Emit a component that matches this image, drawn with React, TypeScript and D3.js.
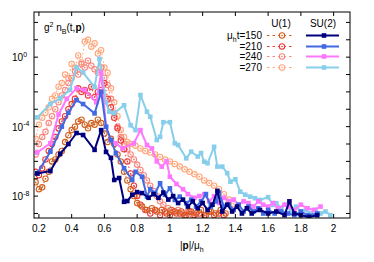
import React from "react";
import * as d3 from "d3";

const W = 374;
const H = 262;
const PL = 34, PR = 350, PT = 12, PB = 218;

const xTicks = [0.2, 0.4, 0.6, 0.8, 1, 1.2, 1.4, 1.6, 1.8, 2];
const xTickLabels = ["0.2", "0.4", "0.6", "0.8", "1", "1.2", "1.4", "1.6", "1.8", "2"];
const yTicks = [1e2, 1e1, 1e0, 1e-1, 1e-2, 1e-3, 1e-4, 1e-5, 1e-6, 1e-7, 1e-8, 1e-9];
const yLabelTicks = [1e0, 1e-4, 1e-8];
const yLabelExps = ["0", "-4", "-8"];

// U(1) series
const u150_p = [0.18,0.20,0.22,0.24,0.26,0.28,0.30,0.32,0.34,0.36,0.38,0.40,0.42,0.44,0.46,0.48,0.50,0.52,0.54,0.56,0.58,0.60,0.62,0.64,0.66,0.68,0.70,0.72,0.74,0.76,0.78,0.80,0.83,0.86,0.89,0.92,0.95,0.98,1.01,1.04,1.07,1.10,1.13,1.16,1.19,1.22,1.25,1.28,1.31,1.34];
const u150_n = [6.3e-8,2.5e-8,3.2e-8,1e-7,2.5e-7,1e-6,1.3e-6,2.5e-6,4e-6,1.3e-5,3.2e-5,6.3e-5,1e-4,2e-4,2.5e-4,1.3e-4,8e-5,1.6e-4,1.3e-4,2.5e-4,1.6e-4,4e-5,1.3e-5,2e-5,1e-5,2.5e-6,1e-6,2.5e-7,8e-8,2.5e-8,1e-8,4e-9,2.5e-9,1.6e-9,2e-9,1.3e-9,1.6e-9,1e-9,1.6e-9,1e-9,1.3e-9,8e-10,1.3e-9,1e-9,1.6e-9,8e-10,1.3e-9,1e-9,1.6e-9,1e-9];

const u210_p = [0.18,0.20,0.22,0.24,0.26,0.28,0.30,0.32,0.34,0.36,0.38,0.40,0.42,0.44,0.46,0.48,0.50,0.52,0.54,0.56,0.58,0.60,0.62,0.64,0.66,0.68,0.70,0.72,0.74,0.76,0.78,0.80,0.82,0.85,0.88,0.91,0.94,0.97,1.00,1.03,1.06,1.09,1.12,1.15,1.18,1.21,1.24,1.27,1.30,1.33];
const u210_n = [2.5e-7,1.6e-7,4e-7,1.3e-6,4e-6,1e-5,2.5e-5,8e-5,2e-4,4e-4,1e-3,2e-3,4e-3,1.6e-2,1e-2,1.3e-2,6.3e-3,2e-2,5e-3,1e-2,1.3e-2,3.2e-2,4e-3,1.3e-3,3.2e-4,8e-5,1.6e-5,5e-6,1e-6,2e-7,4e-8,1e-8,3.2e-9,1.6e-9,1e-9,1.6e-9,8e-10,1.3e-9,8e-10,1.3e-9,1e-9,8e-10,1.3e-9,8e-10,1e-9,8e-10,1.3e-9,8e-10,1e-9,8e-10];

const u240_p = [0.18,0.20,0.22,0.24,0.26,0.28,0.30,0.32,0.34,0.36,0.38,0.40,0.42,0.44,0.46,0.48,0.50,0.52,0.54,0.56,0.58,0.60,0.62,0.64,0.66,0.68,0.70,0.72,0.74,0.76,0.78,0.80,0.82,0.84,0.86,0.88,0.90,0.92,0.94,0.96,0.99,1.02,1.05,1.08,1.11,1.14];
const u240_n = [2.5e-6,1e-5,2.5e-5,5e-5,1.6e-4,4e-4,1e-3,2.5e-3,6.3e-3,1.3e-2,3.2e-2,6.3e-2,0.16,0.1,0.4,0.25,0.63,0.32,0.2,0.13,0.25,6.3e-2,2.5e-2,4e-3,6.3e-4,1e-4,2.5e-5,1e-5,5e-6,2.5e-6,1.3e-6,6.3e-7,3.2e-7,1.6e-7,8e-8,4e-8,2e-8,1e-8,5e-9,3.2e-9,2e-9,1.3e-9,1.6e-9,1e-9,1.3e-9,8e-10];

const u270_p = [0.18,0.20,0.22,0.24,0.26,0.28,0.30,0.32,0.34,0.36,0.38,0.40,0.42,0.44,0.46,0.48,0.50,0.52,0.54,0.56,0.58,0.60,0.62,0.64,0.66,0.68,0.70,0.72,0.74,0.76,0.79,0.82,0.85,0.88,0.91,0.94,0.97,1.00,1.03,1.06,1.09,1.12,1.15,1.18,1.21,1.24,1.27,1.30,1.33,1.36,1.39];
const u270_n = [2e-5,1.3e-4,3.2e-4,6.3e-4,1.3e-3,4e-3,6.3e-3,2e-2,3.2e-2,0.1,6.3e-2,0.4,0.25,1.26,0.5,7.9,10,4,6.3,1.6,2.5,0.25,0.126,1.6e-2,2.5e-3,4e-4,6.3e-5,2.5e-5,1.3e-5,1e-5,8e-6,5.6e-6,4e-6,3.2e-6,2.5e-6,1.8e-6,1.3e-6,1e-6,7.1e-7,5e-7,3.5e-7,2.5e-7,1.8e-7,1.3e-7,8e-8,5.6e-8,4e-8,2.5e-8,1.3e-8,6.3e-9,3.5e-9];

// SU(2) series
const s150_p = [0.19,0.27,0.33,0.38,0.43,0.47,0.54,0.58,0.61,0.64,0.66,0.69,0.72,0.74,0.77,0.80,0.83,0.87,0.90,0.93,0.96,0.99,1.02,1.05,1.08,1.11,1.14,1.17,1.20,1.23,1.26,1.29,1.32,1.35,1.38,1.41,1.44,1.47,1.50,1.55,1.60,1.65,1.70,1.73,1.76,1.80,1.85,1.90];
const s150_n = [2e-7,2.8e-7,2.7e-6,1e-5,4.3e-5,3.3e-5,4.6e-6,6.3e-5,3.5e-6,1.6e-6,8.5e-8,1.1e-7,4.7e-9,5.2e-9,1.2e-8,1.7e-8,1.5e-8,8e-9,1.3e-8,8e-9,1.6e-8,6.3e-9,1e-8,4e-9,6.3e-9,2.5e-9,5e-9,2e-9,4e-9,1.6e-9,3.2e-9,2e-8,1.3e-9,3.2e-9,1.3e-9,2.5e-9,1e-9,2e-9,1e-9,1.6e-9,1e-9,1.3e-9,8e-10,5e-9,1e-9,8e-10,6.3e-10,8e-10];

const s210_p = [0.19,0.27,0.34,0.38,0.43,0.47,0.54,0.58,0.61,0.64,0.67,0.72,0.77,0.79,0.83,0.86,0.88,0.91,0.94,0.97,1.00,1.03,1.06,1.10,1.13,1.16,1.19,1.22,1.25,1.28,1.30,1.33,1.36,1.39,1.42,1.45,1.48,1.51,1.54,1.57,1.60,1.64,1.68,1.72,1.76,1.80,1.84,1.90];
const s210_n = [2.1e-7,3.6e-6,1e-4,6.3e-4,3.4e-3,2e-3,5.8e-4,1e-2,9.8e-5,1.7e-5,3e-6,4e-7,8.5e-8,2.5e-7,1.3e-7,9.3e-9,2.5e-8,1.5e-8,5.5e-8,1.2e-8,2.8e-8,6e-9,9.3e-9,3.9e-9,6.3e-9,2.5e-9,5e-9,1.3e-8,2.5e-9,5e-9,1.6e-8,2.5e-9,3.2e-9,1.6e-9,3.2e-9,1.3e-9,2.5e-9,1.3e-9,2e-9,1e-9,1.6e-9,1e-9,1.3e-9,1e-9,8e-10,1.3e-9,8e-10,1e-9];

const s240_p = [0.19,0.27,0.32,0.37,0.43,0.48,0.55,0.58,0.61,0.64,0.67,0.71,0.78,0.82,0.86,0.89,0.92,0.95,0.98,1.00,1.04,1.08,1.11,1.15,1.18,1.21,1.24,1.27,1.30,1.33,1.36,1.39,1.42,1.45,1.48,1.51,1.54,1.57,1.60,1.63,1.66,1.70,1.73,1.76,1.80,1.84,1.88,1.92];
const s240_n = [3.3e-6,1.1e-5,5e-4,4e-3,1.6e-2,1.3e-2,2.5e-3,0.13,9.8e-5,1.7e-5,1.1e-5,5.6e-6,1.1e-5,6.3e-5,8.7e-6,5.6e-6,1e-6,5e-7,1e-6,1.3e-7,5e-8,2.5e-8,1.3e-8,8e-9,1e-8,1.3e-8,5e-9,1e-8,4e-9,8e-9,5e-9,6.3e-9,3.2e-9,5e-9,4e-9,2.5e-9,5e-9,3.2e-9,2.5e-9,4e-9,2e-9,3.2e-9,2.5e-9,1.6e-9,3.2e-9,2e-9,1.6e-9,2.5e-9];

const s270_p = [0.19,0.27,0.33,0.39,0.43,0.47,0.54,0.57,0.61,0.63,0.66,0.72,0.76,0.79,0.82,0.86,0.88,0.92,0.94,0.96,1.00,1.03,1.05,1.10,1.13,1.17,1.19,1.21,1.23,1.27,1.29,1.32,1.35,1.37,1.40,1.43,1.46,1.49,1.52,1.55,1.60,1.63,1.65,1.68,1.71,1.74,1.77,1.80,1.83,1.86,1.89,1.92,1.95,1.98];
const s270_n = [3.4e-4,2e-3,4.3e-3,1.3e-2,0.26,0.13,1.9e-2,0.8,2.5e-3,7.2e-4,6e-4,1.7e-3,1.2e-4,6.3e-5,6.6e-3,7.2e-4,3.7e-4,1.7e-5,2.6e-5,1.8e-4,1.8e-4,1.1e-5,8.7e-6,1.5e-6,3.6e-6,1.9e-6,3e-6,9.5e-7,7.8e-7,6.9e-6,5e-7,5e-7,2.1e-7,6.8e-8,9.3e-8,1.8e-8,1.2e-8,9.3e-9,7.6e-9,6e-9,8.7e-9,3.1e-9,3.9e-9,2e-9,3.2e-9,1.3e-9,2.5e-9,1.3e-9,1.6e-9,1e-9,1.6e-9,1e-9,1.3e-9,8e-10];

const timeLabels = ["150", "210", "240", "270"];
const u1Colors = ["#d0601e", "#ee3b3b", "#f8877f", "#ffa77c"];
const su2Colors = ["#00007f", "#4169e1", "#ff77ff", "#87ceeb"];

const u1Series = [
  { p: u150_p, n: u150_n },
  { p: u210_p, n: u210_n },
  { p: u240_p, n: u240_n },
  { p: u270_p, n: u270_n },
];
const su2Series = [
  { p: s150_p, n: s150_n },
  { p: s210_p, n: s210_n },
  { p: s240_p, n: s240_n },
  { p: s270_p, n: s270_n },
];

const FONT = "'Liberation Sans', Arial, Helvetica, sans-serif";

export default function App() {
  const x = d3.scaleLinear().domain([0.17, 2.1]).range([PL, PR]);
  const y = d3.scaleLog().domain([Math.pow(10, -9.26), Math.pow(10, 2.6)]).range([PB, PT]);

  const line = d3
    .line<[number, number]>()
    .x((d) => x(d[0]))
    .y((d) => y(d[1]));

  const toPts = (s: { p: number[]; n: number[] }) =>
    s.p.map((v, i) => [v, s.n[i]] as [number, number]);

  const sq = 4.6;
  const legendRows = [39, 50, 60, 71];

  return (
    <svg width={W} height={H} style={{ display: "block", position: "absolute", left: 0, top: 0 }} fontFamily={FONT}>
      <rect x={0} y={0} width={W} height={H} fill="#fff" />
      <defs>
        <clipPath id="plotclip">
          <rect x={PL} y={PT} width={PR - PL} height={PB - PT} />
        </clipPath>
      </defs>

      <g clipPath="url(#plotclip)">
        {/* U(1) series, drawn from latest time to earliest */}
        {[3, 2, 1, 0].map((k) => {
          const pts = toPts(u1Series[k]);
          return (
            <g key={"u" + k}>
              <path d={line(pts) || ""} fill="none" stroke={u1Colors[k]} strokeWidth={1.1} strokeDasharray="1.5,2.5" />
              {pts.map((d, i) => (
                <g key={i}>
                  <circle cx={x(d[0])} cy={y(d[1])} r={2.7} fill="none" stroke={u1Colors[k]} strokeWidth={1.1} />
                  <circle cx={x(d[0])} cy={y(d[1])} r={0.8} fill={u1Colors[k]} />
                </g>
              ))}
            </g>
          );
        })}
        {/* SU(2) series */}
        {[3, 2, 1, 0].map((k) => {
          const pts = toPts(su2Series[k]);
          return (
            <g key={"s" + k}>
              <path d={line(pts) || ""} fill="none" stroke={su2Colors[k]} strokeWidth={2} strokeLinejoin="round" />
              {pts.map((d, i) => (
                <rect key={i} x={x(d[0]) - sq / 2} y={y(d[1]) - sq / 2} width={sq} height={sq} fill={su2Colors[k]} />
              ))}
            </g>
          );
        })}
      </g>

      {/* frame */}
      <rect x={PL} y={PT} width={PR - PL} height={PB - PT} fill="none" stroke="#000" strokeWidth={1} />

      {/* x ticks */}
      {xTicks.map((t, i) => (
        <g key={"xt" + i}>
          <line x1={x(t)} x2={x(t)} y1={PB} y2={PB - 4} stroke="#000" strokeWidth={1} />
          <line x1={x(t)} x2={x(t)} y1={PT} y2={PT + 4} stroke="#000" strokeWidth={1} />
          <text x={x(t)} y={232} fontSize={10} textAnchor="middle" fill="#000">
            {xTickLabels[i]}
          </text>
        </g>
      ))}

      {/* y ticks */}
      {yTicks.map((t, i) => (
        <g key={"yt" + i}>
          <line x1={PL} x2={PL + 4} y1={y(t)} y2={y(t)} stroke="#000" strokeWidth={1} />
          <line x1={PR} x2={PR - 4} y1={y(t)} y2={y(t)} stroke="#000" strokeWidth={1} />
        </g>
      ))}
      {yLabelTicks.map((t, i) => (
        <text key={"yl" + i} x={12} y={y(t) + 4} fontSize={10} fill="#000">
          10
          <tspan dy={-4.5} fontSize={7}>
            {yLabelExps[i]}
          </tspan>
        </text>
      ))}

      {/* axis label */}
      <text x={180} y={249} fontSize={10} fill="#000">
        |<tspan fontWeight="bold">p</tspan>|/μ
        <tspan dy={2.5} fontSize={7}>h</tspan>
      </text>

      {/* title */}
      <text x={44} y={31} fontSize={10} fill="#000">
        g
        <tspan dy={-4.5} fontSize={7}>2</tspan>
        <tspan dy={4.5}> n</tspan>
        <tspan dy={2.5} fontSize={7}>B</tspan>
        <tspan dy={-2.5}>(t,</tspan>
        <tspan fontWeight="bold">p</tspan>
        <tspan>)</tspan>
      </text>

      {/* legend */}
      <text x={281} y={27} fontSize={10} textAnchor="middle" fill="#000">U(1)</text>
      <text x={323} y={27} fontSize={10} textAnchor="middle" fill="#000">SU(2)</text>
      {timeLabels.map((tl, k) => {
        const ly = legendRows[k];
        return (
          <g key={"lg" + k}>
            {k === 0 ? (
              <text x={262} y={ly} fontSize={10} textAnchor="end" fill="#000">
                μ<tspan dy={2.5} fontSize={7}>h</tspan>
                <tspan dy={-2.5}>t={tl}</tspan>
              </text>
            ) : (
              <text x={262} y={ly} fontSize={10} textAnchor="end" fill="#000">
                ={tl}
              </text>
            )}
            <line x1={267} x2={294} y1={ly - 3.5} y2={ly - 3.5} stroke={u1Colors[k]} strokeWidth={1.1} strokeDasharray="2.5,3" />
            <circle cx={282} cy={ly - 3.5} r={2.7} fill="#fff" stroke={u1Colors[k]} strokeWidth={1.1} />
            <circle cx={282} cy={ly - 3.5} r={0.8} fill={u1Colors[k]} />
            <line x1={306} x2={339} y1={ly - 3.5} y2={ly - 3.5} stroke={su2Colors[k]} strokeWidth={2} />
            <rect x={324 - sq / 2} y={ly - 3.5 - sq / 2} width={sq} height={sq} fill={su2Colors[k]} />
          </g>
        );
      })}
    </svg>
  );
}
